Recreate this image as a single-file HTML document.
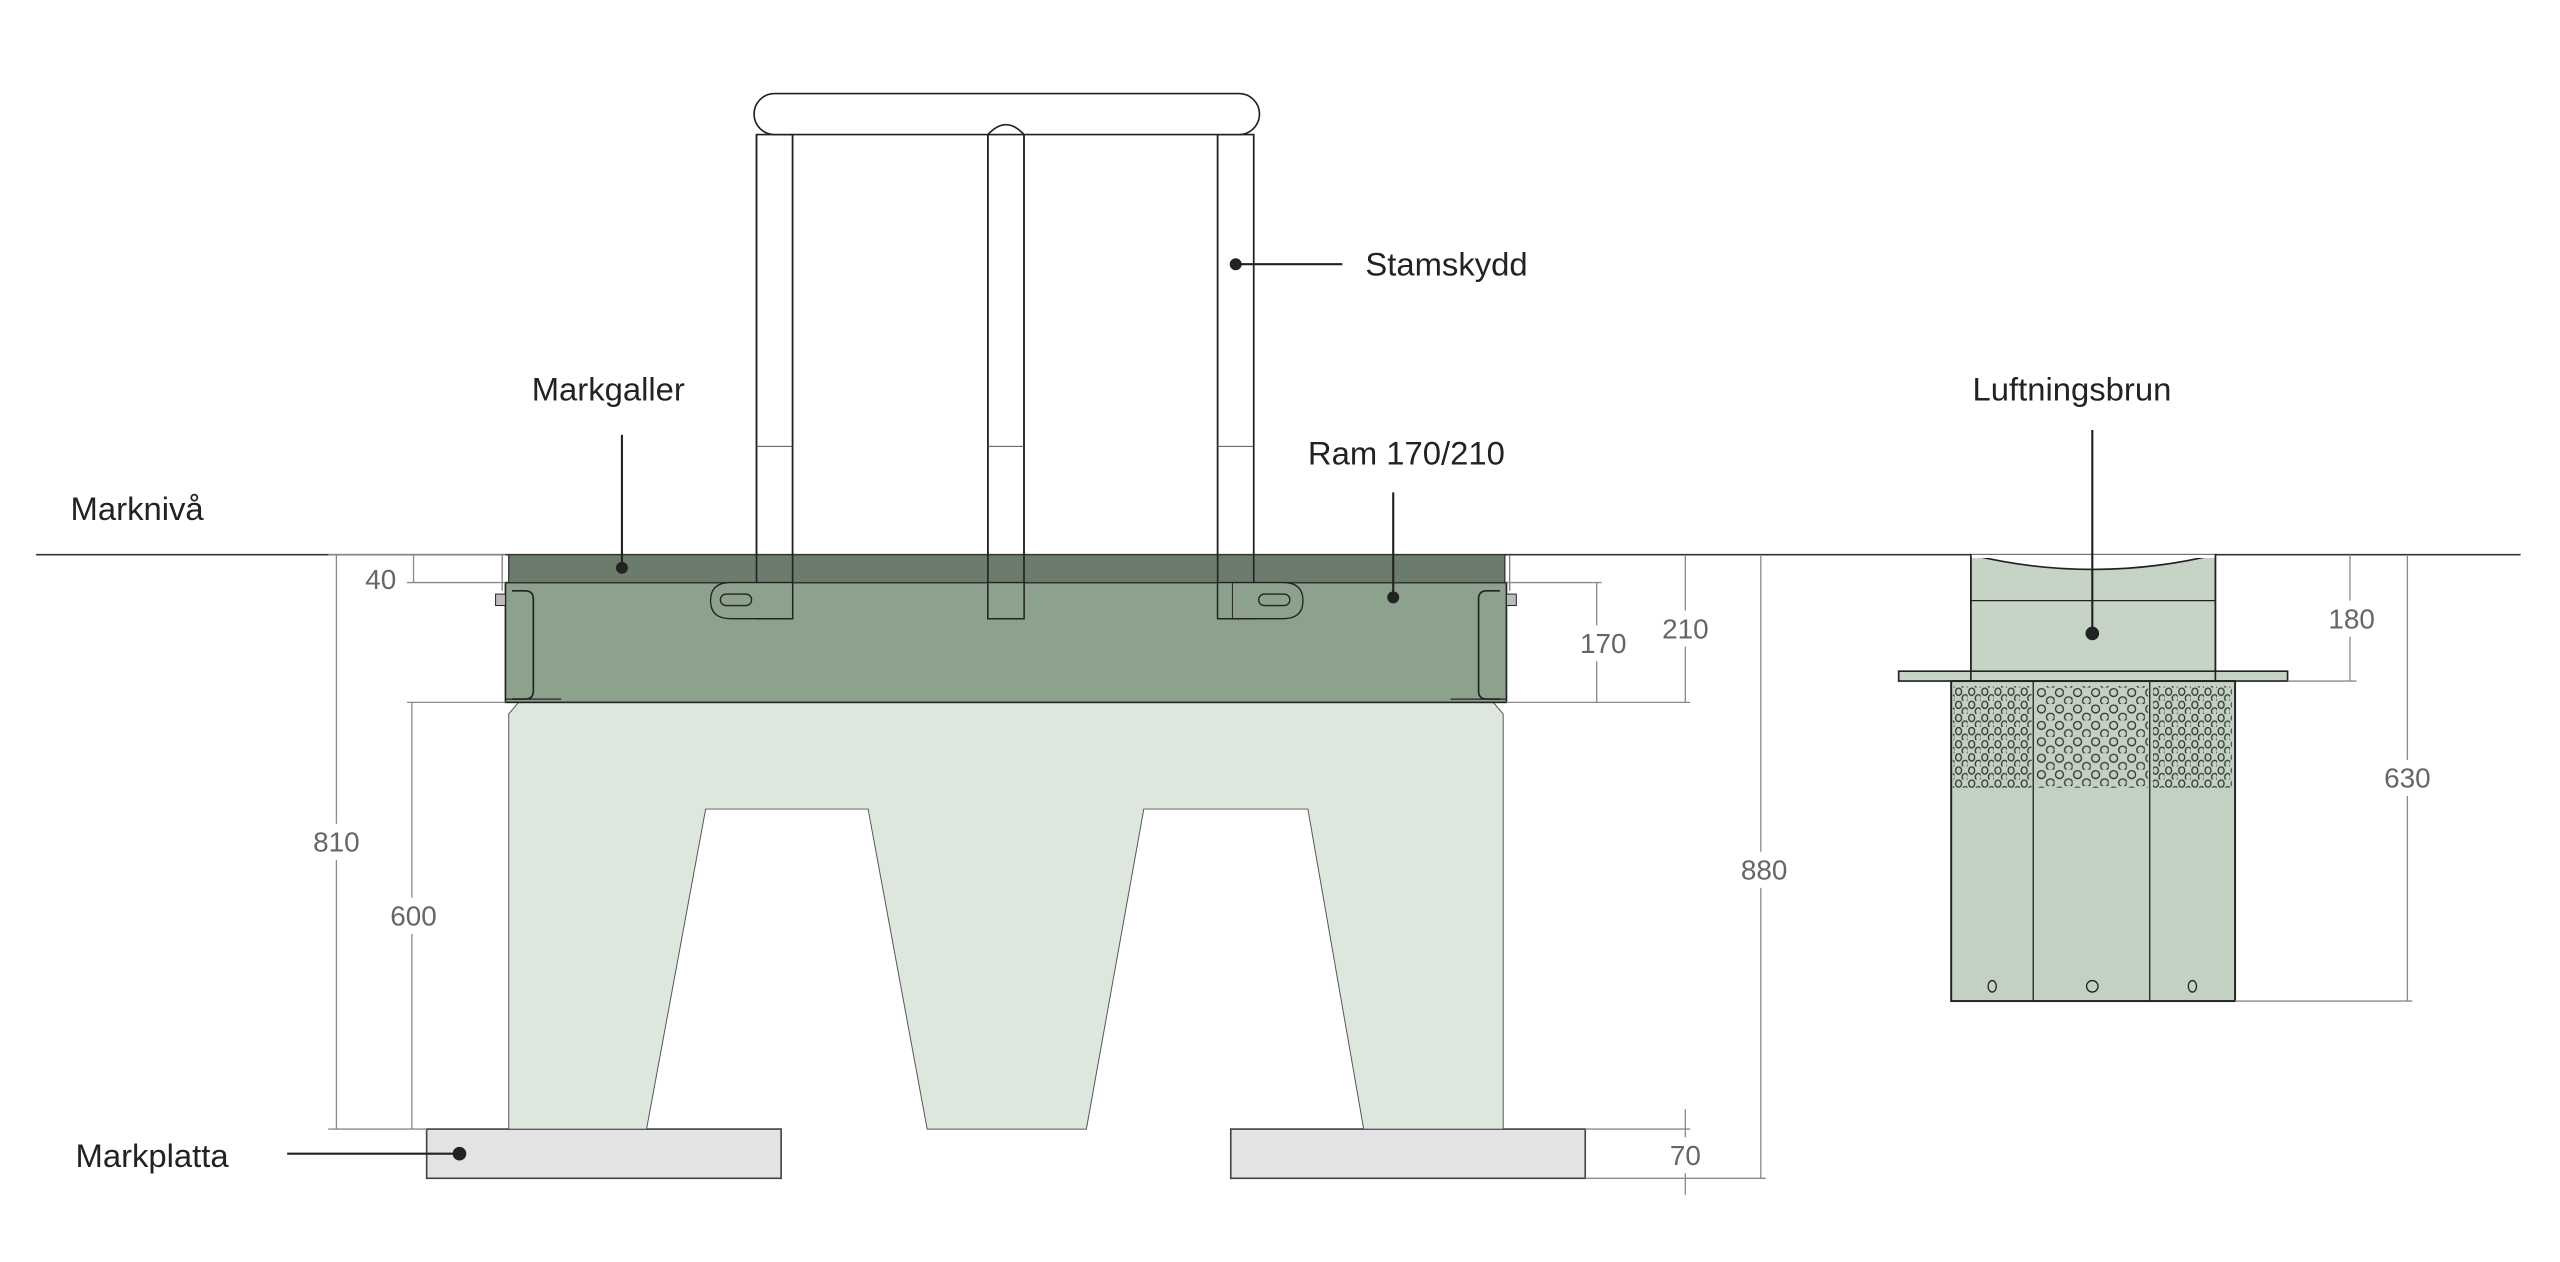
<!DOCTYPE html>
<html><head><meta charset="utf-8"><style>
html,body{margin:0;padding:0;background:#fff;}
svg{display:block;}
text{font-family:"Liberation Sans",sans-serif;}
.lbl{font-size:20px;fill:#222;}
.dim{font-size:17px;fill:#666;}
.dl{stroke:#8a8a8a;stroke-width:0.8;fill:none;}
</style></head><body>
<svg width="2560" height="1262" viewBox="0 0 1560 769" preserveAspectRatio="none" xmlns="http://www.w3.org/2000/svg">
<defs>
<pattern id="perfA" x="1191" y="419" width="8" height="8" patternUnits="userSpaceOnUse">
<ellipse cx="2.5" cy="2.5" rx="1.8" ry="2.2" fill="none" stroke="#333" stroke-width="0.8"/>
<ellipse cx="6.5" cy="6.5" rx="1.8" ry="2.2" fill="none" stroke="#333" stroke-width="0.8"/>
</pattern>
<pattern id="perfB" x="1241" y="419" width="11" height="10" patternUnits="userSpaceOnUse">
<circle cx="3" cy="3" r="2.4" fill="none" stroke="#333" stroke-width="0.8"/>
<circle cx="8.5" cy="8" r="2.4" fill="none" stroke="#333" stroke-width="0.8"/>
</pattern>
</defs>
<rect width="1560" height="769" fill="#fff"/>
<line x1="22" y1="338" x2="1536" y2="338" stroke="#333" stroke-width="1"/>

<rect x="260" y="688" width="216" height="30" fill="#e3e3e6" stroke="#444" stroke-width="1"/>
<rect x="750" y="688" width="216" height="30" fill="#e3e3e6" stroke="#444" stroke-width="1"/>

<polygon points="316,428 910,428 916,435 916,688 831,688 797,493 697,493 662,688 565,688 529,493 430,493 394,688 310,688 310,435" fill="#dde7dd" stroke="#555" stroke-width="0.6"/>

<rect x="308" y="355" width="610" height="73" fill="#8da28d" stroke="#222" stroke-width="1"/>
<path d="M312,360 h8 q5,0 5,5 v56 q0,5 -5,5 h-8" fill="none" stroke="#222" stroke-width="1"/>
<path d="M914,360 h-8 q-5,0 -5,5 v56 q0,5 5,5 h8" fill="none" stroke="#222" stroke-width="1"/>
<line x1="308" y1="426" x2="342" y2="426" stroke="#222" stroke-width="0.8"/>
<line x1="884" y1="426" x2="918" y2="426" stroke="#222" stroke-width="0.8"/>
<rect x="302" y="362" width="6" height="7" fill="#bbb" stroke="#222" stroke-width="0.6"/>
<rect x="918" y="362" width="6" height="7" fill="#bbb" stroke="#222" stroke-width="0.6"/>
<line x1="306" y1="338" x2="306" y2="360" stroke="#555" stroke-width="0.6"/>
<line x1="920" y1="338" x2="920" y2="360" stroke="#555" stroke-width="0.6"/>

<rect x="310" y="338" width="607" height="17" fill="#6c7c6c" stroke="#333" stroke-width="0.8"/>

<rect x="461" y="82" width="22" height="295" fill="none" stroke="#222" stroke-width="1"/>
<rect x="602" y="82" width="22" height="295" fill="none" stroke="#222" stroke-width="1"/>
<rect x="742" y="82" width="22" height="295" fill="none" stroke="#222" stroke-width="1"/>
<rect x="462" y="83" width="20" height="254" fill="#fff"/>
<rect x="603" y="83" width="20" height="254" fill="#fff"/>
<rect x="743" y="83" width="20" height="254" fill="#fff"/>
<line x1="461" y1="82" x2="461" y2="338" stroke="#222"/><line x1="483" y1="82" x2="483" y2="338" stroke="#222"/>
<line x1="602" y1="82" x2="602" y2="338" stroke="#222"/><line x1="624" y1="82" x2="624" y2="338" stroke="#222"/>
<line x1="742" y1="82" x2="742" y2="338" stroke="#222"/><line x1="764" y1="82" x2="764" y2="338" stroke="#222"/>
<line x1="461" y1="272" x2="483" y2="272" stroke="#555" stroke-width="0.6"/>
<line x1="602" y1="272" x2="624" y2="272" stroke="#555" stroke-width="0.6"/>
<line x1="742" y1="272" x2="764" y2="272" stroke="#555" stroke-width="0.6"/>
<path d="M472,57 H755 A12.5,12.5 0 0 1 755,82 H624 Q613,70 602,82 H472 A12.5,12.5 0 0 1 472,57 Z" fill="#fff" stroke="#222" stroke-width="1"/>

<path d="M483,355 V377 H445 Q433,377 433,366 Q433,355 445,355 Z" fill="#8da28d" stroke="#222" stroke-width="0.8"/>
<rect x="439" y="362" width="19" height="7" rx="3.5" fill="none" stroke="#222" stroke-width="0.8"/>
<path d="M742,355 V377 H782 Q794,377 794,366 Q794,355 782,355 Z" fill="#8da28d" stroke="#222" stroke-width="0.8"/>
<line x1="751" y1="355" x2="751" y2="377" stroke="#222" stroke-width="0.6"/>
<rect x="767" y="362" width="19" height="7" rx="3.5" fill="none" stroke="#222" stroke-width="0.8"/>
<rect x="602" y="355" width="22" height="22" fill="#8da28d" stroke="#222" stroke-width="0.8"/>

<path d="M1201,338 Q1275,356 1350,338 V415 H1201 Z" fill="#c6d4c6" stroke="#222" stroke-width="1"/>
<line x1="1201" y1="366" x2="1350" y2="366" stroke="#222" stroke-width="0.8"/>
<rect x="1157" y="409" width="237" height="6" fill="#c6d4c6" stroke="#222" stroke-width="1"/>
<rect x="1201" y="338" width="149" height="2" fill="#fff"/>
<line x1="1201" y1="338" x2="1201" y2="415" stroke="#222"/><line x1="1350" y1="338" x2="1350" y2="415" stroke="#222"/>
<rect x="1189" y="415" width="173" height="195" fill="#c2d1c2" stroke="#222" stroke-width="1.2"/>
<rect x="1190" y="418" width="48" height="62" fill="url(#perfA)"/>
<rect x="1241" y="418" width="68" height="62" fill="url(#perfB)"/>
<rect x="1312" y="418" width="48" height="62" fill="url(#perfA)"/>
<line x1="1239" y1="415" x2="1239" y2="610" stroke="#222" stroke-width="0.8"/>
<line x1="1310" y1="415" x2="1310" y2="610" stroke="#222" stroke-width="0.8"/>
<ellipse cx="1214" cy="601" rx="2.5" ry="3.5" fill="none" stroke="#222" stroke-width="0.8"/>
<ellipse cx="1275" cy="601" rx="3.5" ry="3.5" fill="none" stroke="#222" stroke-width="0.8"/>
<ellipse cx="1336" cy="601" rx="2.5" ry="3.5" fill="none" stroke="#222" stroke-width="0.8"/>

<g class="dl">
<line x1="252" y1="338" x2="252" y2="355"/><line x1="248" y1="355" x2="308" y2="355"/>
<line x1="205" y1="338" x2="205" y2="688"/><line x1="200" y1="338" x2="308" y2="338"/><line x1="200" y1="688" x2="260" y2="688"/>
<line x1="251" y1="428" x2="251" y2="688"/><line x1="248" y1="428" x2="308" y2="428"/>
<line x1="973" y1="355" x2="973" y2="428"/><line x1="918" y1="355" x2="976" y2="355"/>
<line x1="1027" y1="338" x2="1027" y2="428"/><line x1="918" y1="428" x2="1030" y2="428"/>
<line x1="1073" y1="338" x2="1073" y2="718"/><line x1="966" y1="718" x2="1076" y2="718"/>
<line x1="1027" y1="676" x2="1027" y2="728"/><line x1="966" y1="688" x2="1030" y2="688"/>
<line x1="1432" y1="338" x2="1432" y2="415"/><line x1="1394" y1="415" x2="1436" y2="415"/>
<line x1="1467" y1="338" x2="1467" y2="610"/><line x1="1362" y1="610" x2="1470" y2="610"/>
</g>
<g fill="#fff">
<rect x="190" y="502" width="30" height="22"/><rect x="236" y="547" width="32" height="22"/>
<rect x="960" y="381" width="32" height="22"/><rect x="1010" y="372" width="34" height="22"/>
<rect x="1058" y="519" width="34" height="22"/><rect x="1014" y="693" width="26" height="22"/>
<rect x="1416" y="366" width="34" height="22"/><rect x="1450" y="463" width="34" height="22"/>
</g>
<g class="dim" text-anchor="middle">
<text x="232" y="359">40</text>
<text x="205" y="519">810</text>
<text x="252" y="564">600</text>
<text x="977" y="398">170</text>
<text x="1027" y="389">210</text>
<text x="1075" y="536">880</text>
<text x="1027" y="710">70</text>
<text x="1433" y="383">180</text>
<text x="1467" y="480">630</text>
</g>

<g stroke="#222" stroke-width="1.3" fill="#222">
<line x1="753" y1="161" x2="818" y2="161"/><circle cx="753" cy="161" r="3"/>
<line x1="379" y1="265" x2="379" y2="346"/><circle cx="379" cy="346" r="3"/>
<line x1="849" y1="300" x2="849" y2="364"/><circle cx="849" cy="364" r="3"/>
<line x1="1275" y1="262" x2="1275" y2="386"/><circle cx="1275" cy="386" r="3.5"/>
<line x1="175" y1="703" x2="280" y2="703"/><circle cx="280" cy="703" r="3.5"/>
</g>
<g class="lbl">
<text x="832" y="168">Stamskydd</text>
<text x="324" y="244">Markgaller</text>
<text x="797" y="283">Ram 170/210</text>
<text x="43" y="317">Marknivå</text>
<text x="1202" y="244">Luftningsbrun</text>
<text x="46" y="711">Markplatta</text>
</g>
</svg>
</body></html>
